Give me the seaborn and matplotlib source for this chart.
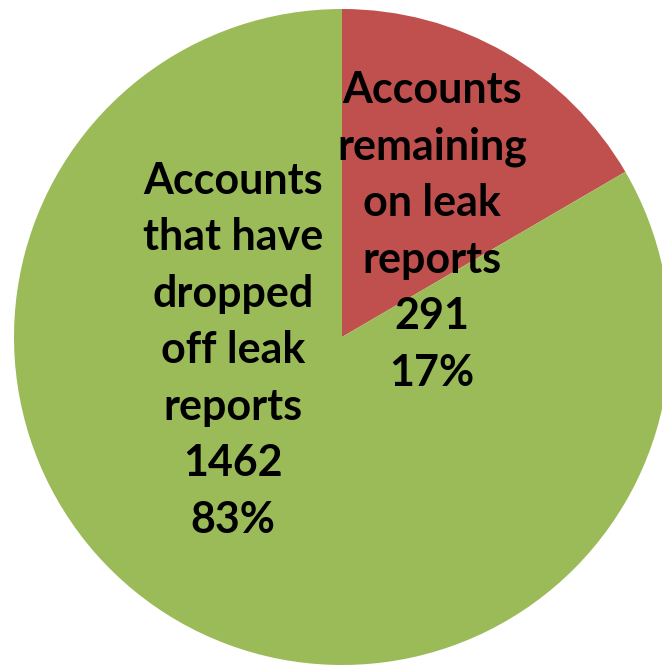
import matplotlib
matplotlib.use("Agg")
import matplotlib.pyplot as plt
import seaborn as sns

sns.set_theme(style="white")
plt.rcParams["font.family"] = ["Lato", "DejaVu Sans"]

# Account counts on and off the leak reports
categories = ["Accounts\nremaining\non leak\nreports", "Accounts\nthat have\ndropped\noff leak\nreports"]
counts = [291, 1462]
colors = ["#C0504D", "#9BBB59"]

W, H = 662, 667
fig = plt.figure(figsize=(W / 100, H / 100), dpi=100)
# pie centre at (342, 337) px, radius 328 px
cx, cy, r = 342, 337, 328
ax = fig.add_axes([(cx - r) / W, (H - cy - r) / H, 2 * r / W, 2 * r / H])

wedges, _ = ax.pie(counts, colors=colors, startangle=90, counterclock=False,
                   radius=1.0, wedgeprops=dict(linewidth=0))
ax.set_aspect("auto")
ax.set_xlim(-1, 1)
ax.set_ylim(-1, 1)
ax.axis("off")

total = sum(counts)
label_pos = [(0.274, 0.323), (-0.332, -0.040)]
for name, n, (x, y) in zip(categories, counts, label_pos):
    pct = round(100 * n / total)
    ax.text(x, y, f"{name}\n{n}\n{pct}%", ha="center", va="center",
            fontsize=31, fontweight="bold", color="black", linespacing=1.5)

fig.savefig("out.png", dpi=100)
